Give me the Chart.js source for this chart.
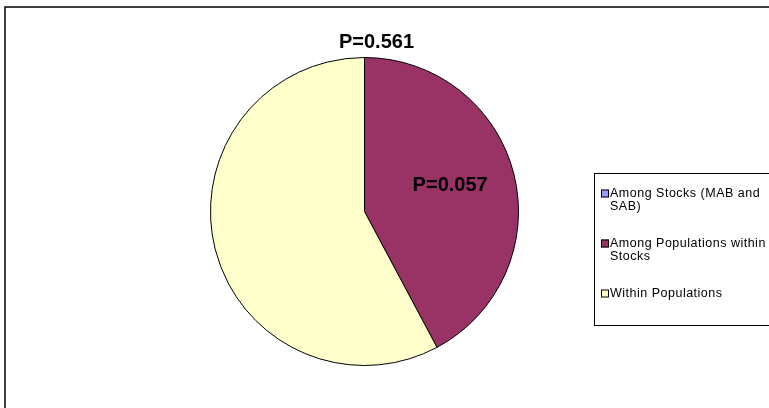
<!DOCTYPE html>
<html>
<head>
<meta charset="utf-8">
<script src="https://cdn.jsdelivr.net/npm/chart.js@4"></script>
<style>
  html, body { margin: 0; padding: 0; background: #fff; }
  #chart { display: block; }
</style>
</head>
<body>
<canvas id="chart" width="769" height="408"></canvas>
<script>
// ── Data ──────────────────────────────────────────────────────────────────────
const categories = [
  ['Among Stocks (MAB and', 'SAB)'],
  ['Among Populations within', 'Stocks'],
  ['Within Populations'],
];
const percentVariation = [0, 42.2, 57.8];
const pLabels = ['P=0.561', 'P=0.057', ''];
const sliceColors = ['#9999FF', '#993366', '#FFFFCC'];

// ── Frame, legend box and P labels ────────────────────────────────────────────
const decorations = {
  id: 'decorations',
  afterDraw(chart) {
    const ctx = chart.ctx;
    const W = chart.width, H = chart.height;
    ctx.save();

    // outer frame (cut off on right and bottom)
    ctx.strokeStyle = '#000';
    ctx.lineWidth = 1.5;
    ctx.beginPath();
    ctx.moveTo(5, H + 2);
    ctx.lineTo(5, 7);
    ctx.lineTo(W + 2, 7);
    ctx.stroke();

    // legend box
    ctx.lineWidth = 1;
    ctx.strokeRect(594.5, 173.5, 200, 152);

    ctx.font = '12.5px "Liberation Sans", Arial, sans-serif';
    ctx.letterSpacing = '0.5px';
    ctx.textBaseline = 'middle';
    ctx.textAlign = 'left';
    categories.forEach((lines, i) => {
      const y0 = 193.5 + i * 50;
      ctx.fillStyle = sliceColors[i];
      ctx.fillRect(601, y0 - 4, 8, 8);
      ctx.strokeStyle = '#000';
      ctx.strokeRect(601.5, y0 - 3.5, 7, 7);
      ctx.fillStyle = '#000';
      lines.forEach((t, j) => ctx.fillText(t, 610, y0 + j * 13.5));
    });

    // P value labels
    ctx.letterSpacing = '0px';
    ctx.font = 'bold 20px "Liberation Sans", Arial, sans-serif';
    ctx.textAlign = 'center';
    ctx.fillStyle = '#000';
    const meta = chart.getDatasetMeta(0);
    meta.data.forEach((arc, i) => {
      if (!pLabels[i]) return;
      const a = (arc.startAngle + arc.endAngle) / 2;
      let x, y;
      if (percentVariation[i] === 0) {
        const r = arc.outerRadius + 15;
        x = arc.x + Math.cos(a) * r + 12;
        y = arc.y + Math.sin(a) * r;
      } else {
        const r = arc.outerRadius * 0.58;
        x = arc.x + Math.cos(a) * r - 1;
        y = arc.y + Math.sin(a) * r - 4;
      }
      ctx.fillText(pLabels[i], x, y);
    });

    ctx.restore();
  },
};

// ── Chart ─────────────────────────────────────────────────────────────────────
new Chart(document.getElementById('chart').getContext('2d'), {
  type: 'pie',
  data: {
    labels: categories,
    datasets: [{
      data: percentVariation,
      backgroundColor: sliceColors,
      borderColor: '#000',
      borderWidth: 1,
      hoverOffset: 0,
    }],
  },
  options: {
    responsive: false,
    animation: false,
    layout: { padding: { left: 210, right: 250, top: 57, bottom: 42 } },
    plugins: {
      legend: { display: false },
      tooltip: { enabled: false },
    },
  },
  plugins: [decorations],
});
</script>
</body>
</html>
